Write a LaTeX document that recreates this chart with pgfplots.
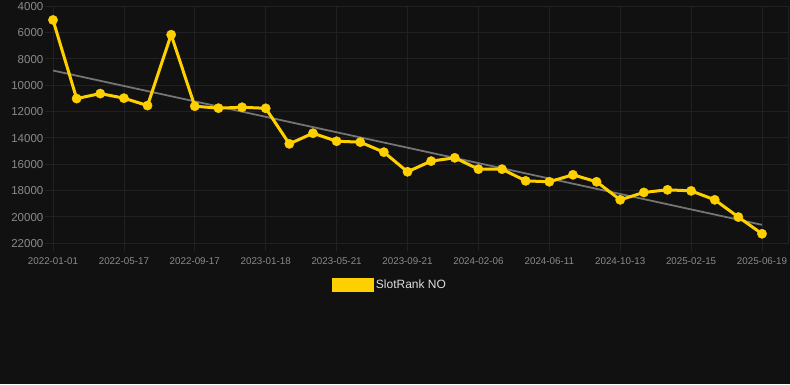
\documentclass[border=0pt]{standalone}
\usepackage{fontspec}
\setmainfont{Liberation Sans}
\usepackage{pgfplots}
\pgfplotsset{compat=1.18}
\definecolor{bg}{HTML}{111111}
\definecolor{gridc}{HTML}{212121}
\definecolor{ticktext}{HTML}{8A8A8A}
\definecolor{slot}{HTML}{FFD000}
\definecolor{trend}{HTML}{747474}
\definecolor{legtext}{HTML}{DDDDDD}
\begin{document}
\begin{tikzpicture}[x=1pt,y=1pt]
\fill[bg] (0,0) rectangle (790,384);
\begin{axis}[
  at={(53pt,141pt)}, anchor=south west,
  scale only axis, width=735pt, height=237pt,
  xmin=0, xmax=31.1, ymin=4000, ymax=22000, y dir=reverse,
  xtick={0,3,...,30},
  xticklabels={2022-01-01,2022-05-17,2022-09-17,2023-01-18,2023-05-21,2023-09-21,2024-02-06,2024-06-11,2024-10-13,2025-02-15,2025-06-19},
  ytick={4000,6000,...,22000},
  grid=major, major grid style={gridc, line width=0.8pt},
  axis line style={gridc, line width=0.8pt},
  tick style={gridc, line width=0.8pt},
  tick align=outside,
  major tick length=7.5pt,
  xtick pos=bottom, ytick pos=left,
  /pgf/number format/assume math mode=true,
  scaled y ticks=false,
  yticklabel={\pgfmathprintnumber[1000 sep={}]{\tick}},
  yticklabel style={anchor=east, inner sep=0pt, xshift=-2pt, yshift=-0.5pt, text=ticktext, font=\fontsize{11.5}{13}\selectfont},
  xticklabel style={anchor=north, inner sep=0pt, yshift=-6.5pt, text=ticktext, font=\fontsize{9.8}{11}\selectfont},
  legend style={at={(0.4585,-0.177)}, anchor=center, draw=none, fill=none, text=legtext, font=\fontsize{12}{14}\selectfont,
    /tikz/every even column/.append style={column sep=5pt}},
  legend image code/.code={\fill[slot] (0pt,-5.5pt) rectangle (39pt,5.5pt);},
]
\addplot[trend, line width=1.8pt, forget plot] coordinates {(0,8900) (30,20620)};
\addplot[slot, line width=3pt, mark=*, mark size=4.7pt, mark options={solid, fill=slot, draw=slot, line width=0.3pt}] coordinates {
(0,5060) (1,11030) (2,10650) (3,11000) (4,11560) (5,6180) (6,11610) (7,11760) (8,11690) (9,11770)
(10,14470) (11,13660) (12,14270) (13,14340) (14,15100) (15,16590) (16,15780) (17,15530) (18,16390) (19,16390)
(20,17280) (21,17350) (22,16820) (23,17350) (24,18720) (25,18160) (26,17960) (27,18040) (28,18720) (29,20030) (30,21300)
};
\addlegendentry{SlotRank NO}
\end{axis}
\end{tikzpicture}
\end{document}
